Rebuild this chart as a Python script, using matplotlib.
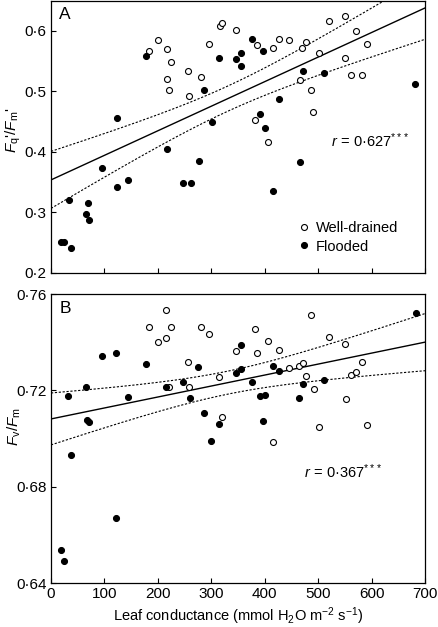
import numpy as np
import matplotlib
matplotlib.use("Agg")
import matplotlib.pyplot as plt
from matplotlib.ticker import FuncFormatter

plt.rcParams['font.family'] = ['Liberation Sans', 'DejaVu Sans']
plt.rcParams['mathtext.fontset'] = 'custom'
plt.rcParams['mathtext.rm'] = 'Liberation Sans'
plt.rcParams['mathtext.it'] = 'Liberation Sans:italic'
plt.rcParams['font.size'] = 10.5

# leaf conductance (mmol H2O m-2 s-1)
wd_gs = [183, 200, 217, 225, 217, 221, 257, 259, 281, 296, 316, 321, 346, 386, 416, 427,
         446, 470, 477, 501, 521, 551, 571, 591, 551, 562, 582, 466, 486, 491, 381, 407]
fl_gs = [19, 24, 38, 33, 65, 69, 72, 96, 123, 124, 144, 178, 217, 248, 262, 277,
         287, 301, 315, 346, 356, 356, 376, 396, 391, 401, 427, 471, 511, 466, 416, 682]

# panel A: Fq'/Fm'
wd_fq = [0.566, 0.585, 0.570, 0.549, 0.520, 0.503, 0.533, 0.493, 0.523, 0.578, 0.608, 0.613,
         0.601, 0.576, 0.571, 0.586, 0.585, 0.572, 0.582, 0.564, 0.616, 0.624, 0.600, 0.578,
         0.555, 0.527, 0.527, 0.518, 0.503, 0.466, 0.452, 0.417]
fl_fq = [0.252, 0.252, 0.241, 0.321, 0.298, 0.315, 0.287, 0.373, 0.456, 0.342, 0.353, 0.559,
         0.404, 0.349, 0.349, 0.385, 0.502, 0.449, 0.555, 0.553, 0.564, 0.542, 0.587, 0.567,
         0.462, 0.440, 0.487, 0.534, 0.530, 0.384, 0.336, 0.512]

# panel B: Fv/Fm (same leaves, different order)
wd_gs_b = [184, 216, 200, 216, 225, 280, 296, 256, 221, 258, 315, 381, 486, 406, 346, 386,
           426, 521, 551, 446, 465, 471, 477, 492, 562, 571, 582, 552, 320, 501, 592, 416]
wd_fv = [0.7463, 0.7535, 0.7401, 0.7419, 0.7463, 0.7463, 0.7434, 0.7318, 0.7214, 0.7214,
         0.7255, 0.7455, 0.7514, 0.7404, 0.7362, 0.7357, 0.7369, 0.7422, 0.7393, 0.7293,
         0.7303, 0.7315, 0.7260, 0.7207, 0.7263, 0.7277, 0.7317, 0.7163, 0.7090, 0.7047,
         0.7058, 0.6985]
fl_gs_b = [19, 24, 37, 32, 65, 68, 72, 96, 122, 121, 144, 178, 215, 247, 260, 276,
           286, 300, 315, 346, 356, 355, 376, 391, 401, 396, 416, 426, 471, 465, 511, 683]
fl_fv = [0.6538, 0.6494, 0.6931, 0.7177, 0.7213, 0.7079, 0.7070, 0.7342, 0.7357, 0.6672,
         0.7174, 0.7311, 0.7216, 0.7234, 0.7170, 0.7297, 0.7106, 0.6990, 0.7061, 0.7274,
         0.7387, 0.7290, 0.7236, 0.7177, 0.7181, 0.7075, 0.7301, 0.7281, 0.7225, 0.7170,
         0.7245, 0.7520]


def fit_band(x, y, xs, t=2.0):
    # least-squares line with 95 % confidence band of the mean
    x = np.asarray(x, float)
    y = np.asarray(y, float)
    b, a = np.polyfit(x, y, 1)
    n = len(x)
    res = y - (a + b * x)
    s = np.sqrt(np.sum(res ** 2) / (n - 2))
    sxx = np.sum((x - x.mean()) ** 2)
    yh = a + b * xs
    h = t * s * np.sqrt(1 / n + (xs - x.mean()) ** 2 / sxx)
    return yh, yh - h, yh + h


fig = plt.figure(figsize=(4.38, 6.27), dpi=100)
axA = fig.add_axes([0.1164, 0.5646, 0.8539, 0.4346])
axB = fig.add_axes([0.1164, 0.0697, 0.8539, 0.4614])

dot = FuncFormatter(lambda v, p: f"{v:g}".replace('.', '·'))
xs = np.linspace(0, 700, 200)

panels = [
    (axA, wd_gs, wd_fq, fl_gs, fl_fq, (0.2, 0.65), np.arange(0.2, 0.61, 0.1),
     r"$F_{\mathrm{q}}$'$/F_{\mathrm{m}}$'", "A", 0.525),
    (axB, wd_gs_b, wd_fv, fl_gs_b, fl_fv, (0.64, 0.76), [0.64, 0.68, 0.72, 0.76],
     r"$F_{\mathrm{v}}/F_{\mathrm{m}}$", "B", 0.54),
]

for ax, gx1, gy1, gx2, gy2, ylim, yt, ylab, tag, ly in panels:
    allx = list(gx1) + list(gx2)
    ally = list(gy1) + list(gy2)
    yh, lo, hi = fit_band(allx, ally, xs)
    ax.plot(xs, yh, color='black', lw=1.0)
    ax.plot(xs, lo, color='black', lw=0.8, dashes=(2, 1.5))
    ax.plot(xs, hi, color='black', lw=0.8, dashes=(2, 1.5))
    ax.plot(gx1, gy1, 'o', mfc='white', mec='black', mew=0.8, ms=4.3, ls='none',
            label='Well-drained')
    ax.plot(gx2, gy2, 'o', mfc='black', mec='black', mew=0.8, ms=4.3, ls='none',
            label='Flooded')
    ax.set_xlim(0, 700)
    ax.set_ylim(*ylim)
    ax.set_xticks(range(0, 701, 100))
    ax.set_yticks(yt)
    ax.yaxis.set_major_formatter(dot)
    ax.tick_params(direction='in', length=3.5, width=0.8, labelsize=11, pad=3)
    for sp in ax.spines.values():
        sp.set_linewidth(0.9)
    ax.set_ylabel(ylab, fontsize=11)
    ax.yaxis.set_label_coords(-0.074, ly)
    ax.text(0.022, 0.975, tag, transform=ax.transAxes, fontsize=12.5, va='top', ha='left')

axA.tick_params(labelbottom=False)
axA.text(0.96, 0.484, r"$r\,{=}\,$0·627$^{***}$", transform=axA.transAxes, ha='right',
         va='center', fontsize=10.5)
axB.text(0.888, 0.385, r"$r\,{=}\,$0·367$^{***}$", transform=axB.transAxes, ha='right',
         va='center', fontsize=10.5)
axA.legend(loc='lower right', bbox_to_anchor=(0.945, 0.05), frameon=False, fontsize=10.5,
           handletextpad=0.35, borderaxespad=0, labelspacing=0.3, handlelength=1.0)
axB.set_xlabel(r"Leaf conductance (mmol H$_2$O m$^{-2}$ s$^{-1}$)", fontsize=10.5, labelpad=3)

fig.savefig("out.png", dpi=100)
